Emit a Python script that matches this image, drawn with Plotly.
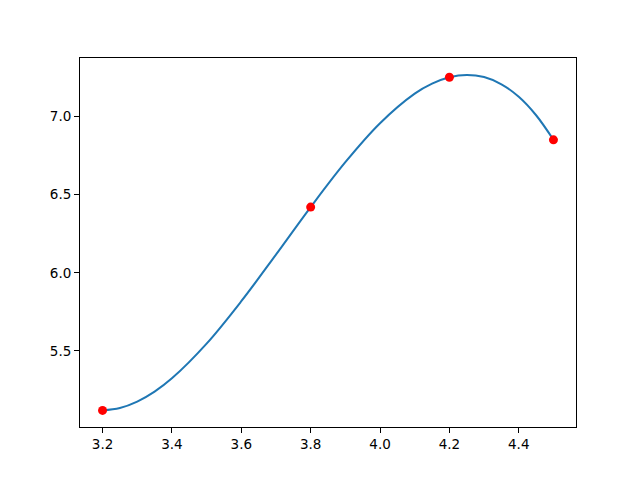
import plotly.graph_objects as go

# measured points (red markers)
pts_x = [3.2, 3.8, 4.2, 4.5]
pts_y = [5.12, 6.42, 7.25, 6.85]

# smooth curve
curve_x = [3.20, 3.25, 3.30, 3.35, 3.40, 3.50, 3.60, 3.70, 3.80, 3.90, 4.00, 4.10, 4.15, 4.20, 4.25, 4.30, 4.35, 4.40, 4.45, 4.50]
curve_y = [5.12, 5.135, 5.176, 5.24, 5.325, 5.547, 5.818, 6.116, 6.42, 6.707, 6.956, 7.145, 7.209, 7.25, 7.265, 7.251, 7.205, 7.125, 7.007, 6.85]

xticks = [3.2, 3.4, 3.6, 3.8, 4.0, 4.2, 4.4]
yticks = [5.5, 6.0, 6.5, 7.0]

fig = go.Figure()
fig.add_trace(go.Scatter(x=curve_x, y=curve_y, mode='lines', line_shape='spline',
                         line=dict(color='#1f77b4', width=2), hoverinfo='skip'))
fig.add_trace(go.Scatter(x=pts_x, y=pts_y, mode='markers',
                         marker=dict(color='red', size=9)))

# page body has an 8px margin, so the margins are trimmed to keep the axes box where matplotlib puts it
fig.update_layout(width=640, height=480, showlegend=False,
                  margin=dict(l=72, r=72, t=50, b=61),
                  plot_bgcolor='white', paper_bgcolor='white',
                  font=dict(family='DejaVu Sans', size=13.5, color='black'))

axis_style = dict(showgrid=False, zeroline=False, showline=True, mirror=True,
                  linecolor='black', linewidth=1, ticks='outside', ticklen=5,
                  tickcolor='black', tickwidth=1)
fig.update_xaxes(range=[3.135, 4.565], tickvals=xticks,
                 ticktext=[f'{v:.1f}' for v in xticks], **axis_style)
fig.update_yaxes(range=[5.014, 7.373], tickvals=yticks,
                 ticktext=[f'{v:.1f}' for v in yticks], **axis_style)

fig.write_html("out.html")
